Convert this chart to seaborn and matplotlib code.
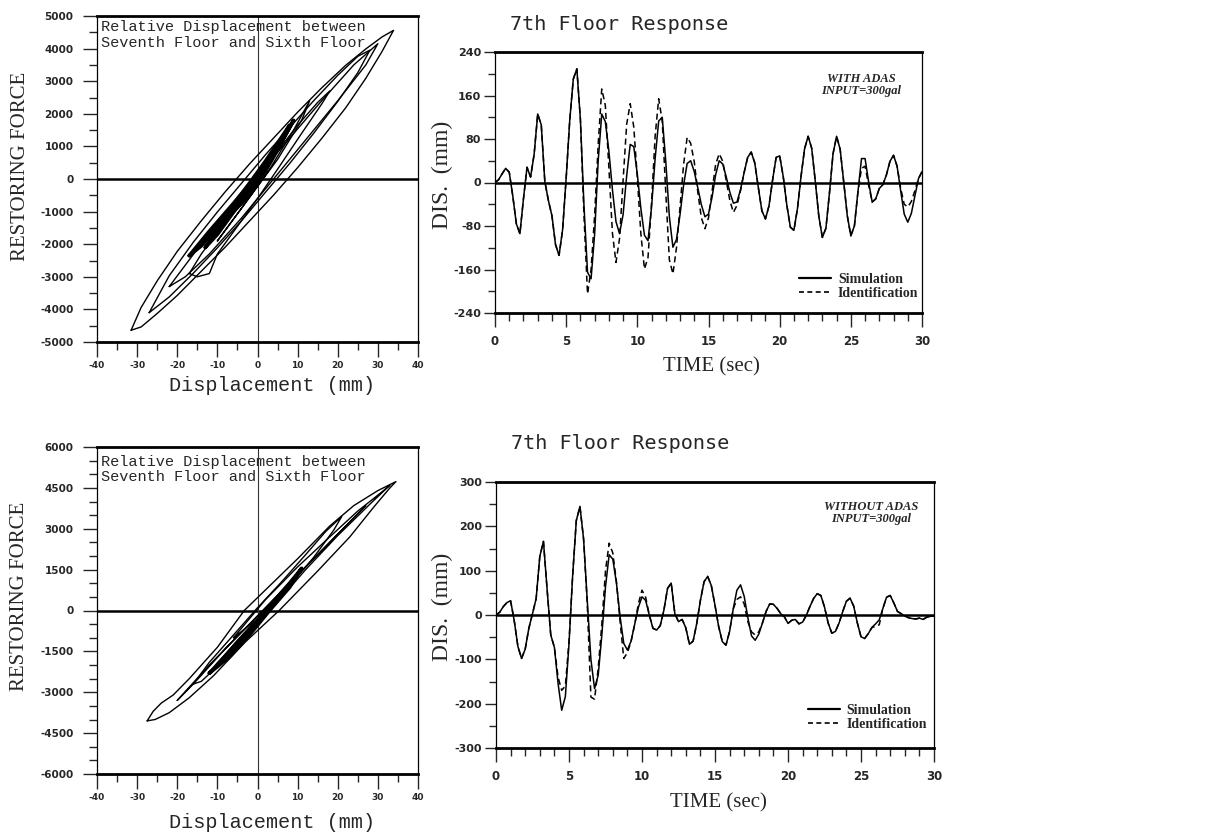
import numpy as np
import pandas as pd
import matplotlib
matplotlib.use("Agg")
import matplotlib.pyplot as plt
import seaborn as sns
from matplotlib.ticker import MultipleLocator
from matplotlib.lines import Line2D

# ---------------- data ----------------
time_s = np.arange(121) * 0.25   # 0 .. 30 s

sim_with = [0, 5, 16, 26, 19, -25, -76, -94, -30, 28, 10, 52, 126, 106, 2, -33,
            -61, -114, -134, -87, 8, 114, 190, 209, 116, -42, -165, -177, -95, 40,
            126, 112, 58, -13, -72, -94, -59, 12, 70, 66, 15, -48, -97, -107, -45,
            44, 113, 120, 38, -63, -119, -105, -59, -5, 35, 40, 20, -10, -41, -63,
            -58, -27, 14, 40, 34, 10, -18, -38, -36, -13, 18, 46, 56, 36, -9, -52,
            -67, -43, 4, 46, 49, 11, -41, -82, -88, -48, 11, 62, 85, 63, 3, -62,
            -101, -84, -19, 53, 85, 61, 1, -61, -98, -80, -17, 44, 44, 1, -36, -30,
            -11, -4, 14, 39, 50, 30, -15, -58, -73, -57, -25, 7, 20]
ident_with = [0, 5, 16, 26, 19, -25, -76, -94, -30, 28, 10, 52, 126, 106, 2, -33,
              -61, -114, -134, -87, 8, 114, 190, 209, 116, -60, -205, -160, -60, 70,
              172, 142, 28, -93, -147, -103, 4, 107, 145, 102, 8, -95, -159, -138, -37,
              85, 154, 113, -19, -142, -168, -120, -45, 33, 83, 72, 38, -18, -65, -85,
              -65, -16, 33, 53, 39, 3, -33, -55, -42, -15, 18, 46, 56, 36, -9, -52,
              -67, -43, 4, 46, 49, 11, -41, -82, -88, -48, 11, 62, 85, 63, 3, -62,
              -101, -84, -19, 53, 85, 61, 1, -61, -98, -80, -17, 26, 30, -5, -36, -30,
              -11, -4, 14, 39, 50, 30, -10, -40, -45, -35, -15, 7, 20]
sim_without = [0, 6, 19, 28, 32, -13, -71, -98, -77, -30, 3, 37, 132, 166, 58, -45,
               -73, -154, -215, -184, -65, 89, 213, 245, 171, 33, -100, -166, -136, -45,
               64, 136, 126, 72, -4, -64, -79, -59, -21, 17, 41, 33, 0, -30, -34,
               -24, 11, 60, 72, 3, -15, -10, -29, -66, -59, -19, 33, 75, 87, 66,
               22, -26, -60, -68, -37, 14, 56, 68, 42, -6, -47, -57, -43, -18, 8, 25,
               24, 15, 3, -4, -19, -12, -10, -20, -16, -1, 19, 37, 48, 44, 18, -18,
               -41, -37, -18, 8, 31, 38, 20, -18, -49, -53, -42, -28, -20, -11, 15, 40,
               44, 27, 8, 3, -2, -6, -8, -9, -7, -10, -5, -3, -2]
ident_without = [0, 6, 19, 28, 32, -13, -71, -98, -77, -30, 3, 37, 132, 166, 58, -45,
                 -73, -140, -170, -160, -60, 89, 213, 245, 171, 25, -185, -190, -120, -20,
                 100, 162, 140, 75, -15, -98, -85, -60, -21, 25, 56, 40, 0, -30, -34,
                 -24, 11, 60, 72, 3, -15, -10, -29, -66, -59, -19, 33, 75, 87, 66,
                 22, -26, -60, -68, -37, 14, 35, 41, 25, -15, -38, -45, -38, -18, 8, 25,
                 24, 15, 3, -4, -19, -12, -10, -20, -16, -1, 19, 37, 48, 44, 18, -18,
                 -41, -37, -18, 8, 31, 38, 20, -18, -49, -53, -42, -28, -26, -22, 15, 40,
                 44, 27, 8, 3, -2, -6, -8, -9, -7, -10, -5, -3, -2]

# hysteresis loops (displacement mm, restoring force) -- with ADAS
with_outer_disp = [-31.5, -29, -25, -20, -14, -8, -2, 4, 10, 16, 22, 27, 31, 33.9,
                   31, 27, 22, 16, 10, 4, -2, -8, -14, -20, -25, -29, -31.5]
with_outer_force = [-4640, -3940, -3125, -2220, -1280, -385, 460, 1255, 2050, 2795, 3490, 3990, 4355, 4560,
                    3904, 3091, 2187, 1243, 349, -495, -1289, -2084, -2828, -3572, -4125, -4538, -4640]
with_mid_disp = [-27, -22, -16, -10, -4, 2, 8, 14, 20, 25, 28, 25, 20, 14, 8, 2, -4, -10, -16, -22, -27]
with_mid_force = [-4100, -2968, -1940, -1011, -133, 746, 1574, 2402, 3181, 3763, 3952, 3263, 2381,
                  1402, 474, -404, -1283, -2111, -2890, -3618, -4100]
with_band_disp = [-22, -15, -8, 0, 8, 16, 24, 30, 27, 20, 12, 4, -4, -12, -18, -22]
with_band_force = [-3300, -2150, -1100, 100, 1250, 2400, 3500, 4150, 3500, 2400, 1200, 0, -1200,
                   -2300, -3000, -3300]
with_inner_disp = [-17, -14, -8, -2, 4, 10, 15, 18, 16, 11, 5, 0, -5, -10, -12, -15, -17]
with_inner_force = [-2900, -2300, -1300, -300, 700, 1650, 2350, 2700, 2300, 1400, 300, -600, -1450,
                    -2300, -2900, -3000, -2900]
with_inner2_disp = [-10, -4, 3, 9, 13, 11, 5, -1, -7, -10]
with_inner2_force = [-1900, -900, 300, 1500, 2400, 1800, 600, -400, -1400, -1900]
with_core1_disp = [-17, -12, -6, 0, 5, 9, 6, 1, -4, -9, -14, -17]
with_core1_force = [-2350, -1600, -750, 150, 900, 1800, 1150, 300, -550, -1350, -2050, -2350]
with_core2_disp = [-13, -8, -3, 2, 8, 5, 0, -5, -10, -13]
with_core2_force = [-2100, -1150, -300, 550, 1650, 950, 0, -850, -1700, -2100]
with_core3_disp = [-6, -2, 3, 6, 2, -2, -6]
with_core3_force = [-1000, -250, 600, 1100, 250, -500, -1000]

# hysteresis loops -- without ADAS
wo_outer_disp = [-27.5, -26, -24, -21, -17, -10, -3.3, 3, 10, 18, 24, 30, 34.5,
                 33, 29, 23, 15, 5.4, -3, -11, -17, -22, -25.5, -27.5]
wo_outer_force = [-4050, -3700, -3400, -3100, -2500, -1350, 0, 900, 1900, 3100, 3850, 4400, 4730,
                  4500, 3800, 2700, 1450, 0, -1150, -2400, -3200, -3750, -4000, -4050]
wo_band_disp = [-20, -12, -4, 4, 12, 20, 27, 24, 16, 8, 0, -8, -16, -20]
wo_band_force = [-3300, -2000, -800, 400, 1600, 2800, 3850, 3400, 2200, 1000, -200, -1400, -2700, -3300]
wo_mid_disp = [-16, -12, -6, 0, 6, 12, 17, 21, 19, 14, 8, 2, -4, -10, -14, -16]
wo_mid_force = [-2700, -1900, -900, 100, 1050, 2050, 2900, 3450, 2950, 1950, 900, -100, -1100,
                -2050, -2600, -2700]
wo_upper_disp = [-6, 2, 10, 18, 25, 31, 33, 28, 20, 12, 4, -6]
wo_upper_force = [-1000, 400, 1600, 2700, 3650, 4350, 4600, 3900, 2750, 1500, 150, -1000]
wo_core1_disp = [-12, -7, -2, 3, 8, 11, 8, 3, -2, -7, -12]
wo_core1_force = [-2300, -1500, -700, 150, 1000, 1550, 850, 0, -900, -1700, -2300]
wo_core2_disp = [-10, -5, 0, 5, 9, 6, 1, -4, -10]
wo_core2_force = [-2000, -1150, -350, 500, 1150, 600, -300, -1100, -2000]

with_yticks = [5000, 4000, 3000, 2000, 1000, 0, -1000, -2000, -3000, -4000, -5000]
wo_yticks = [6000, 4500, 3000, 1500, 0, -1500, -3000, -4500, -6000]
disp_ticks = [-40, -30, -20, -10, 0, 10, 20, 30, 40]
time_ticks = [0, 5, 10, 15, 20, 25, 30]
dis_ticks_with = [240, 160, 80, 0, -80, -160, -240]
dis_ticks_without = [300, 200, 100, 0, -100, -200, -300]

# ---------------- style ----------------
sns.set_style("ticks")
plt.rcParams['font.family'] = ['DejaVu Sans']
plt.rcParams['axes.unicode_minus'] = False

W, H = 1208, 836
fig = plt.figure(figsize=(W / 100, H / 100), dpi=100)
fig.patch.set_facecolor('white')


def add_axes(x0, y0, x1, y1):
    return fig.add_axes([x0 / W, 1 - y1 / H, (x1 - x0) / W, (y1 - y0) / H])


def style_spines(ax):
    for s in ['top', 'bottom']:
        ax.spines[s].set_linewidth(2.0)
    for s in ['left', 'right']:
        ax.spines[s].set_linewidth(0.9)
    ax.spines['right'].set_visible(True)
    ax.spines['top'].set_visible(True)
    for s in ax.spines.values():
        s.set_color('black')


def tick_fonts(ax, xsize, ysize, family):
    for lab in ax.get_xticklabels():
        lab.set_fontweight('bold')
        lab.set_fontsize(xsize)
        lab.set_family(family)
    for lab in ax.get_yticklabels():
        lab.set_fontweight('bold')
        lab.set_fontsize(ysize)
        lab.set_family(family)


def loops_frame(loops):
    rows = []
    for i, (xs, ys) in enumerate(loops):
        for k, (xv, yv) in enumerate(zip(xs, ys)):
            rows.append(dict(loop=i, order=k, disp=xv, force=yv))
    return pd.DataFrame(rows)


def draw_hyst(ax, thin_loops, thick_loops, yticks, yminor):
    sns.lineplot(data=loops_frame(thin_loops), x='disp', y='force', units='loop',
                 estimator=None, sort=False, color='black', lw=1.0, ax=ax, legend=False)
    sns.lineplot(data=loops_frame(thick_loops), x='disp', y='force', units='loop',
                 estimator=None, sort=False, color='black', lw=2.6, ax=ax, legend=False)
    ax.axhline(0, color='black', lw=1.8, zorder=0)
    ax.axvline(0, color='#333333', lw=0.8, zorder=0)
    ax.set_xlim(-40, 40)
    ax.set_ylim(min(yticks), max(yticks))
    ax.set_xticks(disp_ticks)
    ax.xaxis.set_minor_locator(MultipleLocator(5))
    ax.set_yticks(yticks)
    ax.yaxis.set_minor_locator(MultipleLocator(yminor))
    ax.tick_params(axis='x', which='major', direction='out', length=11, width=1.0, pad=3)
    ax.tick_params(axis='x', which='minor', direction='out', length=6, width=1.0)
    ax.tick_params(axis='y', which='major', direction='out', length=10, width=1.0, pad=7)
    ax.tick_params(axis='y', which='minor', direction='out', length=6, width=1.0)
    style_spines(ax)
    tick_fonts(ax, 6.5, 7.5, 'DejaVu Sans')
    ax.set_xlabel('Displacement (mm)', family='Liberation Mono', fontsize=14.5)
    ax.set_ylabel('RESTORING FORCE', family='Liberation Serif', fontsize=15)
    ax.yaxis.label.set_va('center')
    ax.xaxis.label.set_va('center')


def draw_time(ax, sim, ident, yticks, yminor, note, title_y, leg_y):
    df = pd.DataFrame({
        'time': np.concatenate([time_s, time_s]),
        'dis': np.concatenate([ident, sim]),
        'series': ['Identification'] * len(time_s) + ['Simulation'] * len(time_s),
    })
    sns.lineplot(data=df, x='time', y='dis', style='series',
                 dashes={'Simulation': '', 'Identification': (4, 2.5)},
                 color='black', lw=1.1, ax=ax, legend=False, estimator=None, sort=False)
    ax.axhline(0, color='black', lw=1.8, zorder=0)
    ax.set_xlim(0, 30)
    ax.set_ylim(min(yticks), max(yticks))
    ax.set_xticks(time_ticks)
    ax.xaxis.set_minor_locator(MultipleLocator(1))
    ax.set_yticks(yticks)
    ax.yaxis.set_minor_locator(MultipleLocator(yminor))
    ax.tick_params(axis='x', which='major', direction='out', length=10, width=1.0, pad=6)
    ax.tick_params(axis='x', which='minor', direction='out', length=6, width=1.0)
    ax.tick_params(axis='y', which='major', direction='out', length=8, width=1.0, pad=2)
    ax.tick_params(axis='y', which='minor', direction='out', length=5, width=1.0)
    style_spines(ax)
    tick_fonts(ax, 8.5, 8, 'DejaVu Sans')
    ax.set_xlabel('TIME (sec)', family='Liberation Serif', fontsize=15)
    ax.set_ylabel('DIS.  (mm)', family='Liberation Serif', fontsize=17)
    ax.yaxis.label.set_va('center')
    ax.xaxis.label.set_va('center')
    ax.text(0.035, title_y, '7th Floor Response', transform=ax.transAxes,
            family='DejaVu Sans Mono', fontsize=14.5, ha='left', va='center')
    ax.text(0.857, note[1], note[0], transform=ax.transAxes, ha='center', va='center',
            family='Liberation Serif', style='italic', weight='bold', fontsize=9, linespacing=1.05)
    handles = [Line2D([], [], color='black', lw=1.6),
               Line2D([], [], color='black', lw=1.2, dashes=(3, 2))]
    ax.legend(handles, ['Simulation', 'Identification'], loc='lower left',
              bbox_to_anchor=(0.712, leg_y), frameon=False, borderpad=0, borderaxespad=0,
              handlelength=2.3, handletextpad=0.5, labelspacing=0.1,
              prop={'family': 'Liberation Serif', 'weight': 'bold', 'size': 10})


# top-left hysteresis
ax_h1 = add_axes(97, 16, 418, 342)
draw_hyst(ax_h1,
          [(with_outer_disp, with_outer_force), (with_mid_disp, with_mid_force),
           (with_band_disp, with_band_force),
           (with_inner_disp, with_inner_force), (with_inner2_disp, with_inner2_force)],
          [(with_core1_disp, with_core1_force), (with_core2_disp, with_core2_force),
           (with_core3_disp, with_core3_force)],
          with_yticks, 500)
ax_h1.xaxis.set_label_coords(0.545, -0.132)
ax_h1.yaxis.set_label_coords(-0.237, 0.54)
ax_h1.text(0.012, 0.966, 'Relative Displacement between', transform=ax_h1.transAxes,
           family='Liberation Mono', fontsize=11, va='center', ha='left')
ax_h1.text(0.012, 0.917, 'Seventh Floor and Sixth Floor', transform=ax_h1.transAxes,
           family='Liberation Mono', fontsize=11, va='center', ha='left')

# bottom-left hysteresis
ax_h2 = add_axes(97, 447, 418, 774)
draw_hyst(ax_h2,
          [(wo_outer_disp, wo_outer_force), (wo_band_disp, wo_band_force),
           (wo_mid_disp, wo_mid_force), (wo_upper_disp, wo_upper_force)],
          [(wo_core1_disp, wo_core1_force), (wo_core2_disp, wo_core2_force)],
          wo_yticks, 500)
ax_h2.xaxis.set_label_coords(0.545, -0.147)
ax_h2.yaxis.set_label_coords(-0.24, 0.544)
ax_h2.text(0.012, 0.954, 'Relative Displacement between', transform=ax_h2.transAxes,
           family='Liberation Mono', fontsize=11, va='center', ha='left')
ax_h2.text(0.012, 0.908, 'Seventh Floor and Sixth Floor', transform=ax_h2.transAxes,
           family='Liberation Mono', fontsize=11, va='center', ha='left')

# top-right time history
ax_t1 = add_axes(495, 52, 922, 313)
draw_time(ax_t1, sim_with, ident_with, dis_ticks_with, 40,
          ('WITH ADAS\nINPUT=300gal', 0.873), 1.107, 0.05)
ax_t1.xaxis.set_label_coords(0.508, -0.207)
ax_t1.yaxis.set_label_coords(-0.124, 0.529)

# bottom-right time history
ax_t2 = add_axes(496, 482, 934, 748)
draw_time(ax_t2, sim_without, ident_without, dis_ticks_without, 50,
          ('WITHOUT ADAS\nINPUT=300gal', 0.883), 1.143, 0.064)
ax_t2.xaxis.set_label_coords(0.507, -0.207)
ax_t2.yaxis.set_label_coords(-0.123, 0.53)

fig.savefig('out.png', dpi=100, facecolor='white')
